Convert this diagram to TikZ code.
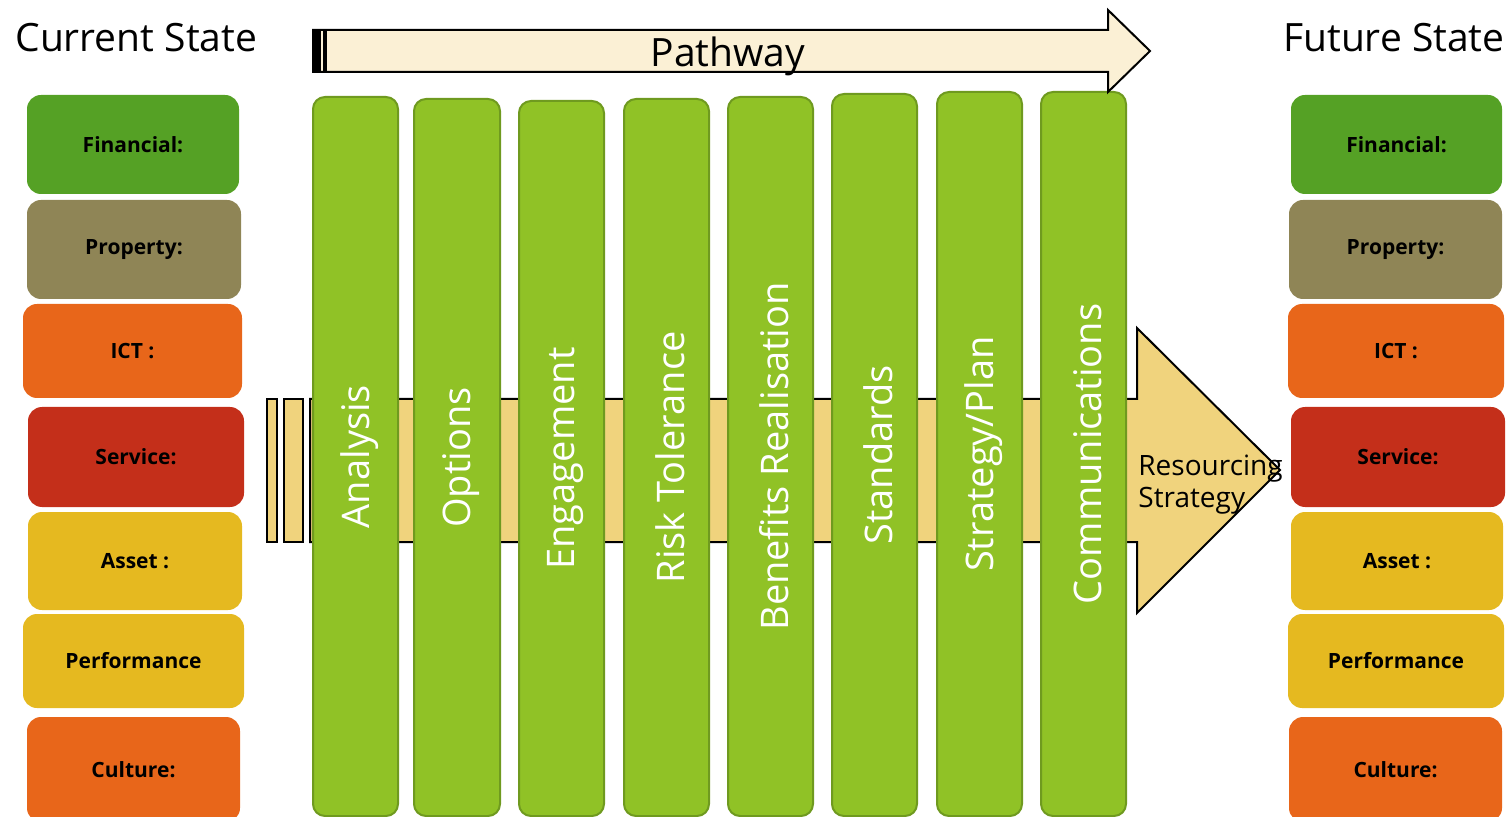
\documentclass[tikz,border=0pt]{standalone}
\usepackage{fontspec}
\setmainfont{Open Sans}
\definecolor{cream}{HTML}{FBF0D5}
\definecolor{gold}{HTML}{F0D37D}
\definecolor{colgreen}{HTML}{90C226}
\definecolor{colborder}{HTML}{6F9A1F}
\definecolor{cfin}{HTML}{55A125}
\definecolor{cprop}{HTML}{8F8556}
\definecolor{cict}{HTML}{E8661A}
\definecolor{cserv}{HTML}{C42F1A}
\definecolor{casset}{HTML}{E5B920}
\definecolor{cperf}{HTML}{E5B920}
\definecolor{ccult}{HTML}{E8661A}
\newcommand\stbox[7]{\node[statebox, fill=#6, minimum width={(#3-#2)*0.5pt}, minimum height={(#5-#4)*0.5pt}] (#1) at ({(#2+#3)/2},{(#4+#5)/2}) {#7};}
\begin{document}
\begin{tikzpicture}[x=0.5pt,y=-0.5pt,
  statebox/.style={rectangle, rounded corners=7pt, draw=none, inner sep=0pt, font=\fontsize{10.5pt}{12pt}\selectfont\bfseries, text=black},
  pcolumn/.style={rectangle, rounded corners=6pt, draw=colborder, line width=1pt, fill=colgreen, inner sep=0pt},
  plabel/.style={rotate=90, inner sep=0pt, text=white, font=\fontsize{19pt}{22pt}\selectfont},
  title/.style={font=\fontsize{19.5pt}{22pt}\selectfont, inner sep=0pt, text=black},
  arrowline/.style={draw=black, line width=1pt}]
\useasboundingbox (0,0) rectangle (1508,817);
% big striped arrow
\path[arrowline, fill=gold] (267,399) rectangle (277,542);
\path[arrowline, fill=gold] (284,399) rectangle (303,542);
\path[arrowline, fill=gold] (310,399) -- (1137,399) -- (1137,328) -- (1280,470) -- (1137,613) -- (1137,542) -- (310,542) -- cycle;
% columns
\foreach \nm/\xa/\xb/\ya/\lab in {cAnalysis/313/398/97/{Analysis}, cOptions/414/500/99/{Options}, cEngagement/519/604/101/{Engagement}, cRisk/624/709/99/{Risk Tolerance}, cBenefits/728/813/97/{Benefits Realisation}, cStandards/832/917/94/{Standards}, cStrategy/937/1022/92/{Strategy/Plan}, cComm/1041/1126/92/{Communications}}{
  \node[pcolumn, minimum width={(\xb-\xa)*0.5pt}, minimum height={(816-\ya)*0.5pt}] (\nm) at ({(\xa+\xb)/2},{(\ya+816)/2}) {};
  \node[plabel] (\nm-label) at ([xshift=2pt]\nm.center) {\lab};
}
% pathway arrow
\path[arrowline, fill=cream] (313,30) -- (1108,30) -- (1108,10) -- (1150,51) -- (1108,92) -- (1108,72) -- (313,72) -- cycle;
\fill[black] (313,30) rectangle (321,72);
\fill[black] (323,30) rectangle (327,72);
\node[title, anchor=base] (pathway) at (728,67) {Pathway};
% titles
\node[title, anchor=base west] (cur) at (15,52) {Current State};
\node[title, anchor=base east] (fut) at (1505,52) {Future State};
% resourcing label
\node[anchor=base west, align=left, inner sep=0pt, font=\fontsize{14pt}{16pt}\selectfont] (res) at (1138,507) {Resourcing\\Strategy};
% left boxes
\stbox{lfin}{27}{239}{95}{194}{cfin}{Financial:}
\stbox{lprop}{27}{241}{200}{299}{cprop}{Property:}
\stbox{lict}{23}{242}{304}{398}{cict}{ICT :}
\stbox{lserv}{28}{244}{407}{507}{cserv}{Service:}
\stbox{lasset}{28}{242}{512}{610}{casset}{Asset :}
\stbox{lperf}{23}{244}{614}{708}{cperf}{Performance}
\stbox{lcult}{27}{240}{717}{822}{ccult}{Culture:}
% right boxes
\stbox{rfin}{1291}{1502}{95}{194}{cfin}{Financial:}
\stbox{rprop}{1289}{1502}{200}{299}{cprop}{Property:}
\stbox{rict}{1288}{1504}{304}{398}{cict}{ICT :}
\stbox{rserv}{1291}{1505}{407}{507}{cserv}{Service:}
\stbox{rasset}{1291}{1503}{512}{610}{casset}{Asset :}
\stbox{rperf}{1288}{1504}{614}{708}{cperf}{Performance}
\stbox{rcult}{1289}{1502}{717}{822}{ccult}{Culture:}
\end{tikzpicture}
\end{document}
